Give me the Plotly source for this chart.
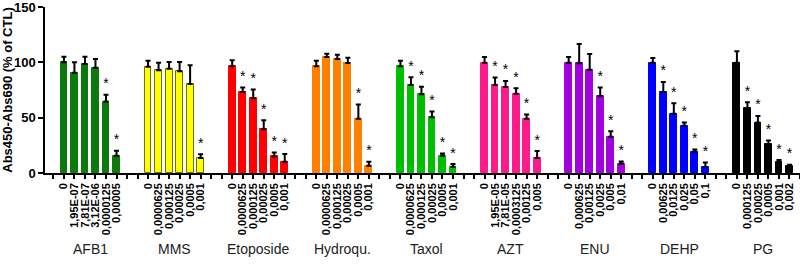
import plotly.graph_objects as go

groups = ["AFB1", "MMS", "Etoposide", "Hydroqu.", "Taxol", "AZT", "ENU", "DEHP", "PG"]
colors = ["#0b7a0b", "#ffff00", "#ff0000", "#ff8000", "#00bf00", "#ff1a8c", "#a300e0", "#0000ff", "#000000"]
outlines = ["#0b7a0b", "#707000", "#ff0000", "#ff8000", "#00bf00", "#ff1a8c", "#a300e0", "#0000ff", "#000000"]

dose_labels = [
    ["0", "1,95E-07", "7,81E-07", "3,12E-06", "0,0000125", "0,00005"],
    ["0", "0,0000625", "0,000125", "0,00025", "0,0005", "0,001"],
    ["0", "0,0000625", "0,000125", "0,00025", "0,0005", "0,001"],
    ["0", "0,0000625", "0,000125", "0,00025", "0,0005", "0,001"],
    ["0", "0,0000625", "0,000125", "0,00025", "0,0005", "0,001"],
    ["0", "1,95E-05", "7,81E-05", "0,0003125", "0,00125", "0,005"],
    ["0", "0,000625", "0,00125", "0,0025", "0,005", "0,01"],
    ["0", "0,00625", "0,0125", "0,025", "0,05", "0,1"],
    ["0", "0,000125", "0,00025", "0,0005", "0,001", "0,002"],
]

means = [
    [100, 90.7, 98.5, 95, 64.6, 15.6],
    [96, 92.8, 94.3, 92, 80.5, 13.5],
    [96.4, 73.3, 67.6, 39.6, 15, 10.2],
    [96.4, 104.8, 103, 99.4, 49, 6.6],
    [96.4, 79.6, 71.2, 50.4, 15.6, 5.7],
    [99.7, 79.6, 77.8, 71.5, 49, 13.5],
    [99.7, 99.1, 93.4, 69.4, 32.7, 8.4],
    [99.7, 73.3, 53.5, 42.6, 19.2, 5.4],
    [99.7, 58.6, 45.6, 26.1, 9.9, 6.0],
]

errors = [
    [5, 9.3, 6.5, 8, 6, 4.4],
    [5.5, 6.9, 6, 8.3, 16.8, 3.5],
    [5.4, 3.9, 7.8, 8.1, 3.6, 6.9],
    [5.1, 3, 3.9, 4.8, 12.9, 3.6],
    [5.1, 6.9, 6.8, 5.1, 2.1, 2.4],
    [5.1, 6.6, 5.4, 5.1, 3.9, 6.3],
    [5.1, 17.4, 14.1, 7.8, 5.1, 2.1],
    [4.2, 9, 9.5, 3, 2.1, 4.2],
    [10.3, 5.4, 6, 3.3, 1.8, 1.5],
]

significant = [
    [0, 0, 0, 0, 1, 1],
    [0, 0, 0, 0, 0, 1],
    [0, 1, 1, 1, 1, 1],
    [0, 0, 0, 0, 1, 1],
    [0, 1, 1, 1, 1, 1],
    [0, 1, 1, 1, 1, 1],
    [0, 0, 0, 1, 1, 1],
    [0, 1, 1, 1, 1, 1],
    [0, 1, 1, 1, 1, 1],
]

slots_per_group = 8
n_slots = 72

fig = go.Figure()
tickvals = list(range(n_slots))
ticktext = [""] * n_slots
star_x, star_y = [], []
FONT = "Liberation Sans, Arial, sans-serif"

for gi, g in enumerate(groups):
    xs = [1 + gi * slots_per_group + k for k in range(len(means[gi]))]
    for k, x in enumerate(xs):
        ticktext[x] = dose_labels[gi][k]
        if significant[gi][k]:
            star_x.append(x)
            star_y.append(means[gi][k] + errors[gi][k] + 9)
    fig.add_trace(go.Bar(
        x=xs, y=means[gi], width=0.65,
        marker=dict(color=colors[gi], line=dict(color=outlines[gi], width=1)),
        error_y=dict(type="data", array=errors[gi], arrayminus=[0] * len(xs),
                     symmetric=False, color="#000000", thickness=2, width=2.5),
        showlegend=False, hoverinfo="skip",
    ))
    fig.add_annotation(x=sum(xs) / len(xs), y=-0.46, xref="x", yref="paper",
                       text=g, showarrow=False, yanchor="middle",
                       font=dict(family=FONT, size=14, color="#222"))

fig.add_trace(go.Scatter(x=star_x, y=star_y, mode="text", text=["*"] * len(star_x),
                         textfont=dict(family=FONT, size=14, color="#000"),
                         showlegend=False, hoverinfo="skip"))

fig.update_layout(
    width=800, height=265,
    margin=dict(l=45, r=0, t=7, b=92),
    plot_bgcolor="white", paper_bgcolor="white",
    bargap=0,
    xaxis=dict(range=[-0.8, 71.0], tickmode="array", tickvals=tickvals, ticktext=ticktext,
               tickangle=-90, ticks="outside", ticklen=4, tickwidth=1.5, tickcolor="#000",
               showline=True, linecolor="#000", linewidth=1.5, showgrid=False, zeroline=False,
               automargin=False, ticklabeloverflow="allow",
               tickfont=dict(family=FONT, size=11, color="#000", weight="bold"), fixedrange=True),
    yaxis=dict(range=[0, 150], tickvals=[0, 50, 100, 150], ticks="outside", ticklen=5,
               tickwidth=1.5, tickcolor="#000", showline=True, linecolor="#000", linewidth=1.5,
               showgrid=False, zeroline=False, automargin=False, ticklabeloverflow="allow",
               tickfont=dict(family=FONT, size=13, color="#000", weight="bold"),
               title=dict(text="Abs450-Abs690 (% of CTL)", standoff=0,
                          font=dict(family=FONT, size=13, color="#000", weight="bold"))),
)

fig.write_html("out.html", config={"displayModeBar": False},
               post_script="document.body.style.margin='0';document.body.style.overflow='hidden';")
